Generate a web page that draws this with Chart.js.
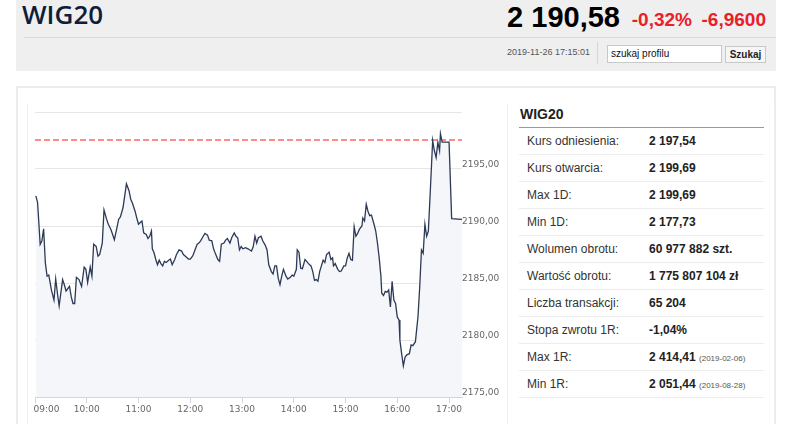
<!DOCTYPE html>
<html lang="pl">
<head>
<meta charset="utf-8">
<title>WIG20</title>
<script src="https://cdn.jsdelivr.net/npm/chart.js@4.4.1/dist/chart.umd.min.js"></script>
<style>
  html, body { margin: 0; padding: 0; background: #fff; }
  body { width: 786px; height: 424px; overflow: hidden; position: relative; font-family: "Liberation Sans", Arial, sans-serif; }
  .abs { position: absolute; white-space: nowrap; }
  #head { left: 16px; top: 0; width: 760px; height: 71px; background: #efefef; }
  #sep { left: 24px; top: 37px; width: 752px; height: 1px; background: #d9d9d9; }
  #name { left: 22px; top: 1px; font: 600 26px/27px "Open Sans", sans-serif; color: #0f1d3d; }
  #price { right: 166px; top: 3px; font: bold 29px/29px "Liberation Sans", Arial; color: #000; }
  .red { font: bold 19px/19px "Liberation Sans", Arial; color: #e8202a; top: 10px; }
  #date { right: 196px; top: 48px; font: 9px/9px "Liberation Sans", Arial; color: #555; }
  #vsep { left: 597px; top: 42px; width: 1px; height: 22px; background: #d5d5d5; }
  #search { left: 607px; top: 45px; width: 110px; height: 16px; border: 1px solid #c8c8c8; background: #fff;
            font: 10px/16px "Liberation Sans", Arial; color: #111; padding-left: 3px; }
  #btn { left: 725px; top: 46px; width: 39px; height: 15px; border: 1px solid #c8c8c8; background: #f6f6f6;
         font: bold 10px/15px "Liberation Sans", Arial; color: #222; text-align: center; }
  #panel { left: 16px; top: 86px; width: 756px; height: 400px; border: 2px solid #ececec; }
  .vline { width: 1px; top: 104px; height: 330px; background: #eeeeee; }
  #chartBox { left: 8px; top: 96px; width: 499px; height: 328px; }
  #tabTitle { left: 520px; top: 107px; font: bold 14px/14px "Liberation Sans", Arial; color: #222; }
  #tabLine { left: 519px; top: 127px; width: 245px; height: 1px; background: #999; }
  .row { left: 519px; width: 245px; height: 26px; border-bottom: 1px solid #ececec; font: 12px/26px "Liberation Sans", Arial; }
  .row .k { position: absolute; left: 8px; color: #333; }
  .row .v { position: absolute; left: 130px; font-weight: bold; color: #222; }
  .row .d { font-weight: normal; font-size: 8px; color: #555; }
</style>
</head>
<body>
<div class="abs" id="head"></div>
<div class="abs" id="sep"></div>
<div class="abs" id="name">WIG20</div>
<div class="abs" id="price">2 190,58</div>
<div class="abs red" style="right:94px">-0,32%</div>
<div class="abs red" style="right:20px">-6,9600</div>
<div class="abs" id="date">2019-11-26 17:15:01</div>
<div class="abs" id="vsep"></div>
<div class="abs" id="search">szukaj profilu</div>
<div class="abs" id="btn">Szukaj</div>

<div class="abs" id="panel"></div>
<div class="abs vline" style="left:27px"></div>
<div class="abs vline" style="left:507px"></div>
<div class="abs vline" style="left:774px"></div>

<div class="abs" id="chartBox"><canvas id="chart"></canvas></div>

<div class="abs" id="tabTitle">WIG20</div>
<div class="abs" id="tabLine"></div>
<div id="rows"></div>

<script>
// notowania WIG20, 2019-11-26 (odczyt z wykresu)
const times = [
  "09:01","09:03","09:06","09:08","09:10","09:12","09:14","09:16","09:19","09:22","09:24","09:26","09:28","09:32","09:34","09:36",
  "09:40","09:42","09:44","09:46","09:48","09:51","09:54","09:57","09:59","10:01","10:04","10:06","10:08","10:11","10:13","10:15",
  "10:18","10:20","10:23","10:25","10:28","10:30","10:32","10:35","10:37","10:39","10:42","10:44","10:46","10:49","10:51","10:53",
  "10:56","10:58","11:00","11:02","11:04","11:06","11:09","11:11","11:13","11:15","11:16","11:18","11:20","11:22","11:24","11:26",
  "11:28","11:30","11:32","11:35","11:37","11:39","11:42","11:44","11:47","11:50","11:52","11:55","11:58","12:00","12:03","12:05",
  "12:08","12:10","12:12","12:15","12:17","12:20","12:22","12:25","12:27","12:29","12:32","12:34","12:36","12:39","12:41","12:43",
  "12:46","12:48","12:51","12:53","12:55","12:57","12:59","13:01","13:04","13:07","13:09","13:11","13:13","13:15","13:17","13:19",
  "13:22","13:24","13:27","13:29","13:31","13:34","13:36","13:38","13:40","13:42","13:44","13:46","13:48","13:51","13:53","13:56",
  "13:58","14:00","14:03","14:04","14:06","14:08","14:10","14:13","14:15","14:17","14:20","14:22","14:24","14:26","14:28","14:30",
  "14:32","14:34","14:36","14:38","14:41","14:43","14:45","14:46","14:48","14:51","14:53","14:55","14:58","15:00","15:02","15:04",
  "15:06","15:08","15:10","15:12","15:14","15:16","15:19","15:20","15:22","15:24","15:26","15:28","15:30","15:33","15:35","15:37",
  "15:39","15:41","15:42","15:44","15:46","15:48","15:50","15:52","15:54","15:56","15:58","16:00","16:02","16:03","16:05","16:07",
  "16:09","16:11","16:14","16:16","16:18","16:21","16:22","16:24","16:26","16:28","16:30","16:32","16:34","16:36","16:38","16:41",
  "16:43","16:45","16:47","16:49","16:50","16:52","17:00","17:03","17:15"
];
const values = [
  2192.65,2192.06,2188.38,2188.70,2189.76,2186.76,2185.60,2185.70,2184.40,2183.50,2185.35,2184.10,2183.00,2185.30,2184.85,2184.30,
  2184.70,2183.80,2183.20,2183.20,2185.50,2185.30,2184.70,2186.40,2186.20,2185.06,2186.40,2185.60,2188.40,2188.20,2187.35,2187.50,
  2188.50,2191.40,2190.60,2190.15,2189.70,2189.26,2188.80,2189.85,2190.60,2190.80,2191.60,2192.65,2193.70,2193.10,2192.35,2192.00,
  2191.30,2190.70,2190.15,2190.30,2190.44,2189.40,2189.26,2188.90,2189.10,2189.56,2188.00,2187.65,2187.06,2186.60,2187.00,2186.70,
  2186.50,2186.90,2186.80,2187.00,2187.10,2186.60,2187.06,2187.50,2187.90,2187.80,2187.50,2187.30,2187.10,2187.10,2187.40,2187.80,
  2188.40,2188.50,2188.70,2189.10,2189.35,2189.20,2188.76,2188.70,2188.00,2187.60,2187.06,2186.90,2188.40,2188.50,2188.76,2188.90,
  2188.50,2188.97,2189.40,2189.10,2188.97,2187.90,2188.20,2188.00,2188.10,2188.00,2187.90,2187.80,2188.20,2189.10,2188.50,2188.97,
  2189.10,2188.70,2188.30,2187.90,2186.60,2186.00,2185.80,2186.50,2186.50,2185.40,2184.85,2185.60,2186.20,2185.60,2185.35,2185.50,
  2185.70,2185.60,2186.20,2187.90,2187.70,2186.30,2186.26,2187.06,2186.90,2186.70,2186.50,2186.00,2185.24,2185.30,2185.15,2186.00,
  2186.50,2187.00,2186.80,2187.50,2187.70,2187.06,2187.20,2186.50,2186.70,2186.20,2186.00,2186.05,2186.50,2186.50,2187.20,2187.60,
  2187.06,2187.00,2189.94,2189.10,2189.35,2189.70,2190.00,2190.70,2190.44,2191.90,2191.30,2190.90,2190.95,2190.15,2189.56,2188.50,
  2187.20,2185.60,2184.10,2183.90,2184.26,2184.20,2184.40,2182.90,2185.15,2183.50,2183.20,2182.00,2181.76,2180.00,2178.80,2177.73,
  2178.50,2178.70,2178.80,2179.56,2179.50,2179.85,2180.60,2182.06,2184.70,2187.90,2187.60,2190.15,2189.10,2189.56,2192.65,2197.50,
  2196.60,2196.00,2197.35,2196.60,2198.10,2197.35,2197.35,2190.65,2190.58
];
const refLevel = 2197.54;           // kurs odniesienia
const sessionStart = "09:00";
const sessionEnd = "17:15";
const hourTicks = ["09:00","10:00","11:00","12:00","13:00","14:00","15:00","16:00","17:00"];
const yTicks = [2175, 2180, 2185, 2190, 2195, 2200];

const statLabels = ["Kurs odniesienia:","Kurs otwarcia:","Max 1D:","Min 1D:","Wolumen obrotu:","Wartość obrotu:","Liczba transakcji:","Stopa zwrotu 1R:","Max 1R:","Min 1R:"];
const statValues = ["2 197,54","2 199,69","2 199,69","2 177,73","60 977 882 szt.","1 775 807 104 zł","65 204","-1,04%","2 414,41","2 051,44"];
const statDates  = ["","","","","","","","","2019-02-06","2019-08-28"];

const toMin = s => { const [h, m] = s.split(":").map(Number); return h * 60 + m; };
const pad2 = n => String(n).padStart(2, "0");
const fmtTime = v => `${pad2(Math.floor(v / 60))}:${pad2(v % 60)}`;
const fmtNum = v => v.toFixed(2).replace(".", ",");

document.getElementById("rows").innerHTML = statLabels.map((k, i) => `
  <div class="abs row" style="top:${128 + i * 27}px">
    <span class="k">${k}</span>
    <span class="v">${statValues[i]}${statDates[i] ? ` <span class="d">(${statDates[i]})</span>` : ""}</span>
  </div>`).join("");

const tickFont = { family: "DejaVu Sans", size: 9 };

new Chart(document.getElementById("chart"), {
  type: "line",
  data: {
    datasets: [
      {
        data: times.map((t, i) => ({ x: toMin(t), y: values[i] })),
        borderColor: "#2c3a56",
        borderWidth: 1.3,
        backgroundColor: "#f4f6f9",
        fill: "start",
        pointRadius: 0,
        tension: 0,
        order: 0,
      },
      {
        data: [{ x: toMin(sessionStart), y: refLevel }, { x: toMin(sessionEnd), y: refLevel }],
        borderColor: "#ff6464",
        borderWidth: 1.5,
        borderDash: [6, 3],
        pointRadius: 0,
        fill: false,
        order: 1,
      }
    ]
  },
  options: {
    responsive: true,
    maintainAspectRatio: false,
    animation: false,
    layout: { padding: { left: 27, top: 16, right: 0, bottom: 0 } },
    plugins: { legend: { display: false }, tooltip: { enabled: false } },
    scales: {
      x: {
        type: "linear",
        min: toMin(sessionStart),
        max: toMin(sessionEnd),
        afterBuildTicks: s => { s.ticks = hourTicks.map(t => ({ value: toMin(t) })); },
        afterFit: s => { s.height = 27; },
        grid: { drawOnChartArea: false, drawTicks: true, tickLength: 6, color: "#ccd6eb" },
        border: { color: "#ccd6eb" },
        ticks: {
          autoSkip: false, maxRotation: 0, padding: 1, color: "#666", font: tickFont,
          // first label sits right of its tick, like in the original
          callback: (v, i) => i === 0 ? "        " + fmtTime(v) : fmtTime(v),
        },
      },
      y: {
        position: "right",
        min: yTicks[0],
        max: yTicks[yTicks.length - 1],
        afterBuildTicks: s => { s.ticks = yTicks.map(v => ({ value: v })); },
        afterFit: s => { s.width = 45; },
        grid: { color: "#e6e6e6", drawTicks: false },
        border: { display: false },
        ticks: {
          padding: 0, labelOffset: -4.5, color: "#666", font: tickFont,
          callback: v => v >= yTicks[yTicks.length - 1] ? "" : fmtNum(v),
        },
      }
    }
  }
});
</script>
</body>
</html>
